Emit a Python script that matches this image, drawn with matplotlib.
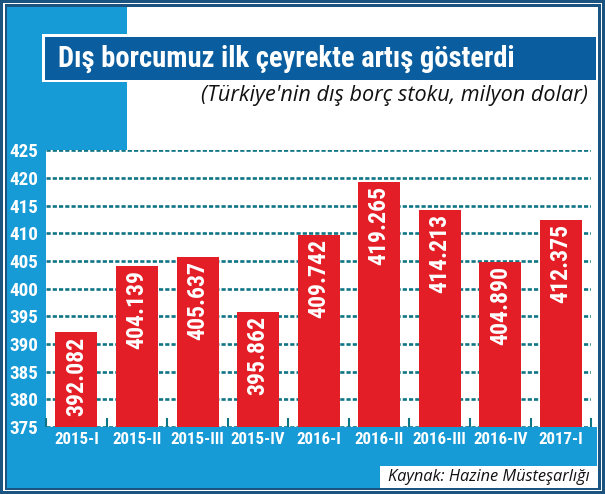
import matplotlib
matplotlib.use("Agg")
import matplotlib.pyplot as plt
from matplotlib.patches import Rectangle
from matplotlib import font_manager

# ---------------- data ----------------
categories = ['2015-I', '2015-II', '2015-III', '2015-IV', '2016-I',
              '2016-II', '2016-III', '2016-IV', '2017-I']
values = [392.082, 404.139, 405.637, 395.862, 409.742,
          419.265, 414.213, 404.890, 412.375]
yticks = [375, 380, 385, 390, 395, 400, 405, 410, 415, 420, 425]
title = "Dış borcumuz ilk çeyrekte artış gösterdi"
subtitle = "(Türkiye'nin dış borç stoku, milyon dolar)"
source = "Kaynak: Hazine Müsteşarlığı"

# ---------------- style ----------------
W, H = 605, 494
LIGHT = '#169bd7'
DARK = '#0a5e9f'
FRAME = '#1c5481'
RED = '#e41e26'
TEAL = '#0f7585'

names = {f.name for f in font_manager.fontManager.ttflist}
if 'Roboto Condensed' in names:
    NARROW = ['Roboto Condensed', 'DejaVu Sans']
    scale = 0.95
elif 'Liberation Sans Narrow' in names:
    NARROW = ['Liberation Sans Narrow', 'DejaVu Sans']
    scale = 1.0
else:
    NARROW = ['DejaVu Sans']
    scale = 0.75
ITAL = ['Open Sans', 'DejaVu Sans']

plt.rcParams['lines.scale_dashes'] = False


def fx(px):
    return px / W


def fy(py):
    return 1 - py / H


def pt(px):
    return px * 0.72


fig = plt.figure(figsize=(W / 100, H / 100), dpi=100)
fig.patch.set_facecolor('white')


def rect(x0, y0, x1, y1, color, z=-10, **kw):
    r = Rectangle((fx(x0), fy(y1)), fx(x1) - fx(x0), fy(y0) - fy(y1),
                  transform=fig.transFigure, facecolor=color,
                  edgecolor='none', zorder=z, **kw)
    fig.patches.append(r)
    return r


# frame (double line)
rect(0, 0, W, H, FRAME, z=-20)
rect(3, 3, W - 3, H - 3, 'white', z=-19)
rect(4.5, 4.5, W - 4.5, H - 4.5, FRAME, z=-18)
rect(7, 7, W - 7, H - 6, 'white', z=-17)

# light blue shapes
rect(7, 7, 127, 150, LIGHT, z=-15)
rect(7, 150, 46.2, 428, LIGHT, z=-15)
rect(7, 427.3, 597, 488, LIGHT, z=-15)
rect(380, 466, 597, 488, 'white', z=-14)

# title bar
rect(41.7, 34, 597, 82, 'white', z=-13)
rect(45, 37.3, 596, 79.5, DARK, z=-12)

fig.text(fx(58), fy(67), title, color='white', family=NARROW,
         fontweight='bold', fontsize=pt(28.5 * scale / 0.95), ha='left',
         va='baseline', zorder=5)
fig.text(fx(588), fy(101), subtitle, color='#111111', family=ITAL,
         style='italic', fontsize=pt(21.6), ha='right', va='baseline',
         zorder=5)
fig.text(fx(590), fy(480.5), source, color='#111111', family=ITAL,
         style='italic', fontsize=pt(16.4), ha='right', va='baseline',
         zorder=5)

# ---------------- axes ----------------
ax_l, ax_r, ax_t, ax_b = 46.2, 591.1, 150.3, 427.0
ax = fig.add_axes([fx(ax_l), fy(ax_b), fx(ax_r) - fx(ax_l),
                   fy(ax_t) - fy(ax_b)])
ax.set_zorder(1)
ax.patch.set_alpha(0)
for s in ax.spines.values():
    s.set_visible(False)

x = list(range(len(categories)))
bars = ax.bar(x, values, width=0.694, color=RED, zorder=3)
ax.set_xlim(-0.5, len(categories) - 0.5)
ax.set_ylim(yticks[0], yticks[-1])
ax.set_yticks(yticks)
ax.set_yticklabels([str(t) for t in yticks])
ax.set_xticks(x)
ax.set_xticklabels(categories)

ax.yaxis.grid(True, color=TEAL, linewidth=1.9, linestyle=(0, (3.0, 1.5)),
              zorder=1)
ax.set_axisbelow(True)

ax.tick_params(axis='y', length=0, pad=pt(8.2), labelcolor='white',
               labelsize=pt(19 * scale / 0.95))
ax.tick_params(axis='x', which='major', length=0, pad=pt(4.5),
               labelcolor='white', labelsize=pt(17.8 * scale))
for lab in ax.get_yticklabels() + ax.get_xticklabels():
    lab.set_family(NARROW)
    lab.set_fontweight('bold')

ax.set_xticks([i - 0.5 for i in range(len(categories) + 1)], minor=True)
ax.tick_params(axis='x', which='minor', direction='in', length=pt(9),
               width=1.5, color=TEAL, bottom=True)

for xi, v in zip(x, values):
    ax.annotate(f"{v:.3f}", xy=(xi, v), xytext=(0, -pt(4)),
                textcoords='offset points', rotation=90, ha='center',
                va='top', color='white', family=NARROW, fontweight='bold',
                fontsize=pt(25 * scale), zorder=4)

fig.savefig('out.png', dpi=100, facecolor=fig.get_facecolor())
